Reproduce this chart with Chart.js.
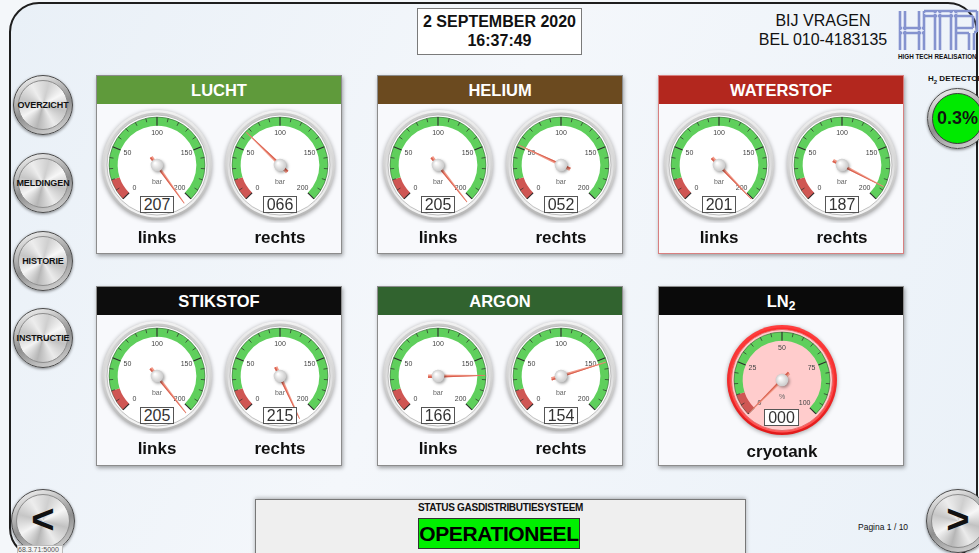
<!DOCTYPE html>
<html><head><meta charset="utf-8">
<script src="https://cdn.jsdelivr.net/npm/chart.js@4/dist/chart.umd.min.js"></script>
<style>
html,body{margin:0;padding:0;}
body{width:979px;height:553px;overflow:hidden;position:relative;font-family:"Liberation Sans",Arial,Helvetica,sans-serif;background:#f4f7fa;}
#frame{position:absolute;left:9px;top:2px;width:969px;height:556px;border:2.5px solid #1e1e1e;border-radius:30px;box-sizing:border-box;background:linear-gradient(115deg,#e9f0f7 0%,#f4f7fb 45%,#eaf1f8 100%);}
.abs{position:absolute;}
.panel{position:absolute;width:246px;background:#f8f9fc;border:1px solid #8c8c8c;box-shadow:1px 2px 4px rgba(0,0,0,0.35);box-sizing:border-box;}
.panel .hd{height:28px;line-height:29px;color:#fff;font-weight:bold;font-size:16.5px;text-align:center;}
.gc{position:absolute;width:130px;height:130px;}
.vbox{position:absolute;width:34px;height:17px;border:1px solid #555;background:#fff;box-sizing:border-box;font-size:16px;line-height:16px;color:#333;text-align:center;z-index:3;}
.lbl{position:absolute;width:100px;text-align:center;font-weight:bold;font-size:17px;color:#111;z-index:3;}
.btn{position:absolute;border-radius:50%;background:linear-gradient(160deg,#fbfbfb 0%,#8f8f8f 55%,#dedede 100%);box-shadow:0 1px 3px rgba(0,0,0,.45);border:1px solid #4a4a4a;box-sizing:border-box;}
.btn .in{position:absolute;left:4px;top:4px;right:4px;bottom:4px;border-radius:50%;background:conic-gradient(from 15deg,#cfcfcf,#f7f7f7,#c2c2c2,#ebebeb,#b6b6b6,#f4f4f4,#c6c6c6,#ededed,#cfcfcf);border:1px solid #8d8d8d;}
.btn .tx{position:absolute;left:-12px;right:-12px;top:0;bottom:0;display:flex;align-items:center;justify-content:center;font-weight:bold;font-size:9px;color:#111;white-space:nowrap;letter-spacing:-0.1px;}
</style>
</head><body>
<div id="frame"></div>
<div id="root"></div>
<script>
// ---- data ----
const gasNames = ['LUCHT', 'HELIUM', 'WATERSTOF', 'STIKSTOF', 'ARGON'];
const headerColors = ['#5f9a3b', '#6b4a1f', '#b3271e', '#0d0d0d', '#31632f'];
const sideLabels = ['links', 'rechts'];
const linksBar = [207, 205, 201, 205, 166];
const rechtsBar = [66, 52, 187, 215, 154];
const barTickLabels = [0, 50, 100, 150, 200];
const barBands = [20, 180];          // red zone, green zone (bar)
const ln2Percent = [0];
const percentTickLabels = [0, 25, 50, 75, 100];
const percentBands = [10, 90];       // red zone, green zone (%)
const h2Percent = '0.3%';
const menuItems = ['OVERZICHT', 'MELDINGEN', 'HISTORIE', 'INSTRUCTIE'];

const root = document.getElementById('root');
function el(tag, cls, css, html) {
  const e = document.createElement(tag);
  if (cls) e.className = cls;
  if (css) e.style.cssText = css;
  if (html !== undefined) e.innerHTML = html;
  root.appendChild(e);
  return e;
}

const gaugePlugin = {
  id: 'gauge',
  beforeDatasetsDraw(chart, args, o) {
    const arc = chart.getDatasetMeta(0).data[0];
    const cx = arc.x, cy = arc.y, ctx = chart.ctx;
    ctx.save();
    ctx.shadowColor = 'rgba(0,0,0,0.35)'; ctx.shadowBlur = 4; ctx.shadowOffsetY = 1;
    let g = ctx.createLinearGradient(0, cy - o.bezelR, 0, cy + o.bezelR);
    g.addColorStop(0, o.bezel[0]); g.addColorStop(1, o.bezel[1]);
    ctx.beginPath(); ctx.arc(cx, cy, o.bezelR, 0, Math.PI * 2); ctx.fillStyle = g; ctx.fill();
    ctx.shadowColor = 'transparent';
    g = ctx.createLinearGradient(0, cy - o.bezelR, 0, cy + o.bezelR);
    g.addColorStop(0, o.bezel[2]); g.addColorStop(1, o.bezel[3]);
    ctx.beginPath(); ctx.arc(cx, cy, o.bezelR - 2.5, 0, Math.PI * 2); ctx.fillStyle = g; ctx.fill();
    ctx.beginPath(); ctx.arc(cx, cy, o.faceR, 0, Math.PI * 2); ctx.fillStyle = o.face; ctx.fill();
    ctx.strokeStyle = o.faceEdge; ctx.lineWidth = 0.8; ctx.stroke();
    ctx.restore();
  },
  afterDatasetsDraw(chart, args, o) {
    const meta = chart.getDatasetMeta(0);
    const first = meta.data[0], last = meta.data[meta.data.length - 1];
    const cx = first.x, cy = first.y;
    const a0 = first.startAngle, a1 = last.endAngle;
    const rIn = first.innerRadius, rOut = first.outerRadius;
    const lo = o.ticks[0], hi = o.ticks[o.ticks.length - 1];
    const ang = v => a0 + (a1 - a0) * (v - lo) / (hi - lo);
    const ctx = chart.ctx;
    ctx.save();
    ctx.strokeStyle = 'rgba(30,60,30,0.55)'; ctx.lineWidth = 0.8;
    ctx.beginPath(); ctx.arc(cx, cy, rOut, a0, a1); ctx.stroke();
    const seg = (a, r1, r2, w) => {
      ctx.lineWidth = w;
      ctx.beginPath();
      ctx.moveTo(cx + r1 * Math.cos(a), cy + r1 * Math.sin(a));
      ctx.lineTo(cx + r2 * Math.cos(a), cy + r2 * Math.sin(a));
      ctx.stroke();
    };
    ctx.strokeStyle = '#2b2b2b';
    for (let i = 0; i < o.ticks.length; i++) {
      seg(ang(o.ticks[i]), rIn, rOut, 1.1);
      if (i < o.ticks.length - 1) {
        for (let k = 1; k < 5; k++) {
          const v = o.ticks[i] + (o.ticks[i + 1] - o.ticks[i]) * k / 5;
          seg(ang(v), rOut - 4, rOut, 0.7);
        }
      }
    }
    ctx.fillStyle = '#444';
    ctx.font = '7px "Liberation Sans", Arial';
    ctx.textAlign = 'center'; ctx.textBaseline = 'middle';
    o.ticks.forEach(t => {
      const a = ang(t);
      ctx.fillText(String(t), cx + o.labelR * Math.cos(a), cy + o.labelR * Math.sin(a));
    });
    ctx.fillStyle = '#666';
    ctx.fillText(o.unit, cx, cy + 17);
    // needle
    const av = ang(o.value);
    const tipR = rOut - 1, tailR = 10;
    ctx.save();
    ctx.translate(cx, cy); ctx.rotate(av);
    ctx.beginPath(); ctx.moveTo(-tailR, -1.7); ctx.lineTo(tipR, -0.4); ctx.lineTo(tipR, 0.4); ctx.lineTo(-tailR, 1.7); ctx.closePath();
    ctx.fillStyle = '#f29a88'; ctx.fill();
    ctx.beginPath(); ctx.moveTo(-tailR, 0); ctx.lineTo(tipR, 0); ctx.lineTo(tipR, 0.4); ctx.lineTo(-tailR, 1.7); ctx.closePath();
    ctx.fillStyle = '#d9604f'; ctx.fill();
    ctx.restore();
    // knob
    ctx.shadowColor = 'rgba(0,0,0,0.35)'; ctx.shadowBlur = 3; ctx.shadowOffsetX = 1.5; ctx.shadowOffsetY = 1.5;
    const kg = ctx.createRadialGradient(cx - 2, cy - 2, 0.5, cx, cy, 6.5);
    kg.addColorStop(0, '#ffffff'); kg.addColorStop(1, '#c9c9c9');
    ctx.beginPath(); ctx.arc(cx, cy, 6.3, 0, Math.PI * 2); ctx.fillStyle = kg; ctx.fill();
    ctx.restore();
  }
};

function makeGauge(cx, cy, value, ticks, bands, unit, style) {
  const c = el('canvas', 'gc', 'left:' + (cx - 65) + 'px;top:' + (cy - 72) + 'px;');
  c.width = 130; c.height = 130;
  new Chart(c, {
    type: 'doughnut',
    data: {
      labels: ['rood', 'groen'],
      datasets: [{ data: bands, backgroundColor: ['#cf5653', '#5fcf5c'], borderWidth: 0 }]
    },
    options: {
      responsive: false, animation: false, events: [],
      rotation: -135, circumference: 270, radius: 48, cutout: '82%',
      plugins: {
        legend: { display: false }, tooltip: { enabled: false },
        gauge: Object.assign({ value: value, ticks: ticks, unit: unit, labelR: 32 }, style)
      }
    },
    plugins: [gaugePlugin]
  });
}

const barStyle = { bezelR: 55, faceR: 50, bezel: ['#f2f2f2', '#b5b5b5', '#c7c7c7', '#f7f7f7'], face: '#ffffff', faceEdge: '#b0b0b0' };
const ln2Style = { bezelR: 55, faceR: 50.5, bezel: ['#ff4040', '#e21a1a', '#ff2a2a', '#ff5a5a'], face: '#ffcccc', faceEdge: '#e06060' };

const panelLefts = [96, 377, 658];
const rowTops = [75, 286];

function makePanel(left, top, title, color, extraCss) {
  const p = el('div', 'panel', 'left:' + left + 'px;top:' + top + 'px;height:' + (top === 75 ? 179 : 180) + 'px;' + (extraCss || ''));
  const h = document.createElement('div');
  h.className = 'hd'; h.style.background = color; h.innerHTML = title;
  p.appendChild(h);
}

gasNames.forEach((name, i) => {
  const col = i % 3, row = Math.floor(i / 3);
  const left = panelLefts[col], top = rowTops[row];
  makePanel(left, top, name, headerColors[i], name === 'WATERSTOF' ? 'border-color:#d88080;' : '');
  const vals = [linksBar[i], rechtsBar[i]];
  [61, 184].forEach((dx, j) => {
    const cx = left + dx, cy = top + 90;
    makeGauge(cx, cy, vals[j], barTickLabels, barBands, 'bar', barStyle);
    el('div', 'vbox', 'left:' + (cx - 17) + 'px;top:' + (cy + 31) + 'px;', String(vals[j]).padStart(3, '0'));
    el('div', 'lbl', 'left:' + (cx - 50) + 'px;top:' + (cy + 63) + 'px;', sideLabels[j]);
  });
});

// LN2
makePanel(658, 286, 'LN<sub style="font-size:12px;vertical-align:-3px;">2</sub>', '#0a0a0a');
makeGauge(782, 380, ln2Percent[0], percentTickLabels, percentBands, '%', ln2Style);
el('div', 'vbox', 'left:764px;top:409px;width:35px;', String(ln2Percent[0]).padStart(3, '0'));
el('div', 'lbl', 'left:732px;top:442px;', 'cryotank');

// header
el('div', 'abs', 'left:417px;top:8px;width:165px;height:47px;border:1px solid #7a7a7a;background:#fff;box-sizing:border-box;text-align:center;font-weight:bold;font-size:16px;line-height:19px;padding-top:3px;color:#111;', '2 SEPTEMBER 2020<br>16:37:49');
el('div', 'abs', 'left:748px;top:11px;width:150px;text-align:center;font-size:16px;line-height:19px;color:#111;', 'BIJ VRAGEN<br>BEL 010-4183135');
el('div', 'abs', 'left:897px;top:6px;width:90px;height:58px;', `<svg width="90" height="58" viewBox="0 0 90 58">
<g stroke="#8593cf" stroke-width="2.6" fill="none">
<path d="M3 5V44M8 5V44M22 5V44M27 5V44M3 22H27M3 27H27"/>
<path d="M27 5H60M27 10H60M38 5V44M43 5V44"/>
<path d="M54 5V44M59 5V44M60 5H80M60 10H76M80 5V26M76 10V22M60 22H76M60 27H72M72 27V44M77 27V44M80 26H77"/>
</g>
<g stroke="#eef2ff" stroke-width="0.8" fill="none" opacity="0.9">
<path d="M5.5 5V44M24.5 5V44M40.5 5V44M56.5 5V44M3 24.5H27M27 7.5H60"/>
</g>
<text x="1" y="53" font-size="6.3" font-weight="bold" font-family="Liberation Sans, Arial" fill="#111">HIGH TECH REALISATION</text>
</svg>`);

// left menu buttons
const menuY = [105, 183, 261, 338];
menuItems.forEach((m, i) => {
  const b = el('div', 'btn', 'left:13px;top:' + (menuY[i] - 30) + 'px;width:60px;height:60px;');
  b.innerHTML = '<div class="in"></div><div class="tx">' + m + '</div>';
});

// H2 detector
el('div', 'abs', 'left:928px;top:74px;font-weight:bold;font-size:8px;white-space:nowrap;color:#111;', 'H<sub style="font-size:6px;">2</sub> DETECTOR');
const h2 = el('div', 'btn', 'left:927px;top:88px;width:61px;height:61px;');
h2.innerHTML = '<div style="position:absolute;left:4px;top:4px;right:4px;bottom:4px;border-radius:50%;background:#00ea00;border:1px solid #3a3a3a;"></div><div class="tx" style="font-size:18px;letter-spacing:0;">' + h2Percent + '</div>';

// bottom
const prev = el('div', 'btn', 'left:11px;top:489px;width:64px;height:64px;');
prev.innerHTML = '<div class="in"></div><div class="tx" style="font-size:40px;font-weight:bold;padding-bottom:4px;">&lt;</div>';
const next = el('div', 'btn', 'left:926px;top:489px;width:64px;height:64px;');
next.innerHTML = '<div class="in"></div><div class="tx" style="font-size:40px;font-weight:bold;padding-bottom:4px;">&gt;</div>';

el('div', 'abs', 'left:255px;top:499px;width:491px;height:70px;background:#efefef;border:1px solid #777;box-shadow:0 -1px 4px rgba(0,0,0,0.3);box-sizing:border-box;', '');
el('div', 'abs', 'left:255px;top:502px;width:491px;text-align:center;font-weight:bold;font-size:10px;color:#111;letter-spacing:-0.3px;', 'STATUS GASDISTRIBUTIESYSTEEM');
el('div', 'abs', 'left:418px;top:518px;width:162px;height:31px;background:#00f000;border:1px solid #333;box-sizing:border-box;text-align:center;font-weight:bold;font-size:21px;line-height:30px;color:#000;letter-spacing:-0.4px;', 'OPERATIONEEL');
el('div', 'abs', 'left:858px;top:522px;font-size:8.5px;color:#111;', 'Pagina 1 / 10');
el('div', 'abs', 'left:17px;top:545px;width:44px;height:10px;background:#f4f4f4;border:1px solid #bbb;font-size:7px;line-height:8px;color:#555;overflow:hidden;white-space:nowrap;', '68.3.71:5000');
</script>
</body></html>
